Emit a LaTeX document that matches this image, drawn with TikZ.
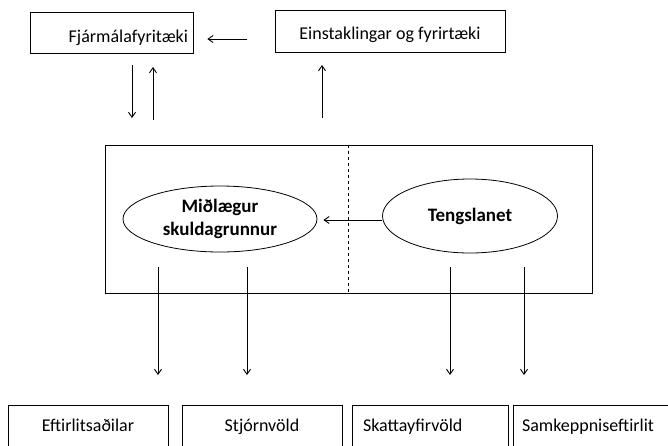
\documentclass[tikz,border=0pt]{standalone}
\usepackage{fontspec}
\setmainfont{Carlito}
\usetikzlibrary{positioning,calc,arrows.meta,shapes.geometric}
\tikzset{>={Straight Barb[length=5pt,width=7pt]}}
\tikzset{
  boks/.style={draw,line width=0.7pt,rectangle,inner sep=0pt,font=\fontsize{18}{21}\selectfont},
  nedri/.style={boks,minimum height=44pt,text height=13pt,text depth=4pt},
  sporo/.style={draw,ellipse,line width=0.8pt,inner sep=0pt,align=center,font=\bfseries\fontsize{19}{23}\selectfont},
  arr/.style={->,line width=0.9pt}
}

\begin{document}
\begin{tikzpicture}[x=1pt,y=-1pt]
\useasboundingbox (0,0) rectangle (668,445);
\clip (0,0) rectangle (668,445);
% Top boxes and the arrow between them
\node[boks,minimum width=163pt,minimum height=41pt,text width=153pt,align=right,text height=23pt,text depth=4pt] (fin) at (111.5,32.5) {Fjármálafyritæki};
\node[boks,minimum width=230pt,minimum height=42pt,text height=20pt,text depth=4pt] (ein) at (390,31) {Einstaklingar og fyrirtæki};
\draw[arr] ($(ein.west)+(-28,8)$) coordinate (e1) -- ($(fin.east)+(14,6.5)$) coordinate (f1);
% Arrows to and from the top boxes
\draw[arr] (132,65) coordinate (fd1) -- (132,118) coordinate (fd2);
\draw[arr] (153,120) coordinate (fu1) -- (153,67) coordinate (fu2);
\draw[arr] (322,118) coordinate (eu1) -- (322,65) coordinate (eu2);
% Middle box with dashed divider
\node[draw,line width=0.8pt,minimum width=487pt,minimum height=148pt,inner sep=0pt] (sys) at (348.5,219) {};
\draw[dashed,line width=0.7pt] (sys.north) -- (sys.south);
% Ellipses
\node[sporo,minimum width=194pt,minimum height=66pt] (msk) at (220,219) {Miðlægur\\skuldagrunnur};
\node[sporo,minimum width=175pt,minimum height=74pt] (teng) at (470,216) {Tengslanet};
\draw[arr] ($(teng.west)+(0,4)$) coordinate (t1) -- ($(msk.east)+(6,1)$) coordinate (m1);
% Bottom boxes
\node[nedri,minimum width=160pt] (eft) at (88,427) {Eftirlitsaðilar};
\node[nedri,minimum width=160pt] (stj) at (262,427) {Stjórnvöld};
\node[nedri,minimum width=156pt,text width=134pt,align=left] (ska) at (430,427) {Skattayfirvöld};
\node[nedri,minimum width=157pt,text width=139pt,align=left] (sam) at (591.5,427) {Samkeppniseftirlit};
% Arrows down from the middle box
\draw[arr] (158,267) coordinate (d1) -- (158,375) coordinate (b1);
\draw[arr] (247,267) coordinate (d2) -- (247,375) coordinate (b2);
\draw[arr] (450,267) coordinate (d3) -- (450,375) coordinate (b3);
\draw[arr] (524,267) coordinate (d4) -- (524,375) coordinate (b4);
\end{tikzpicture}
\end{document}
